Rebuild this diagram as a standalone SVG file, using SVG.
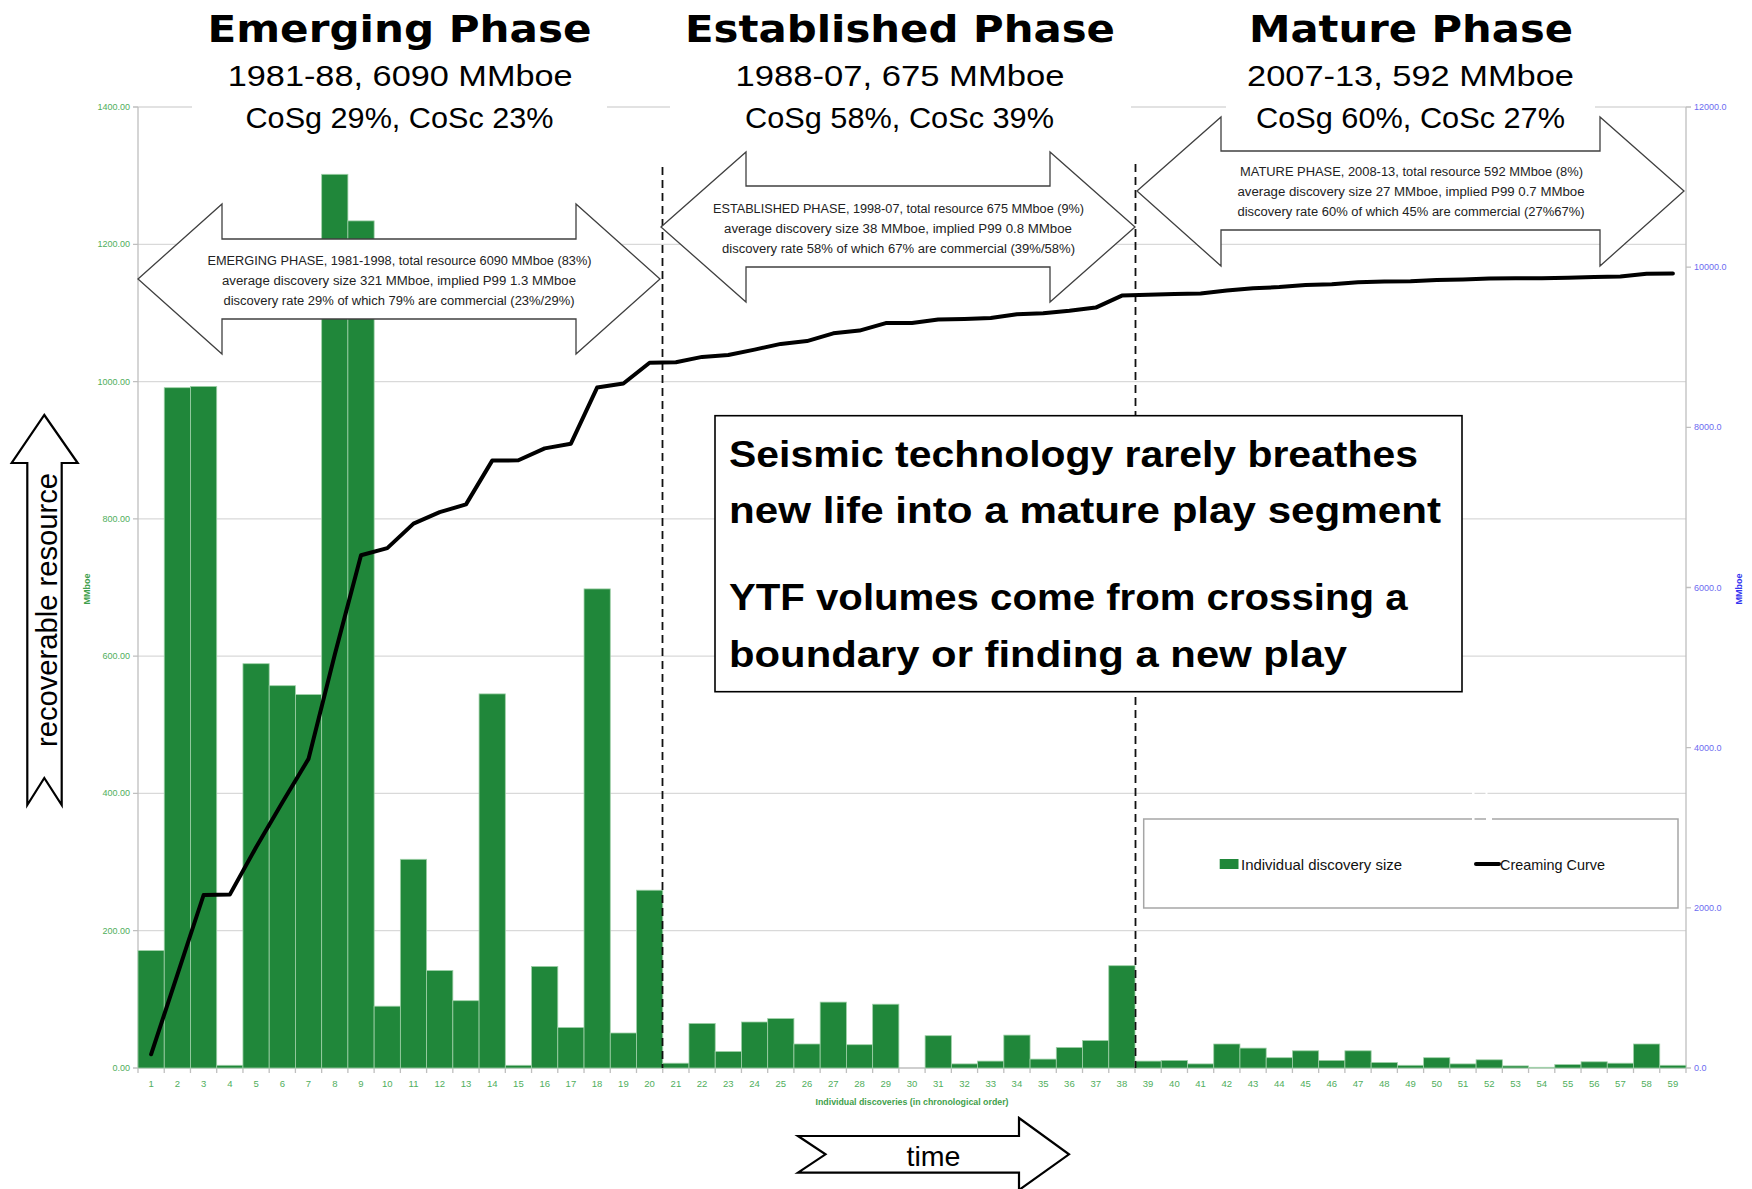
<svg xmlns="http://www.w3.org/2000/svg" width="1752" height="1189" viewBox="0 0 1752 1189">
<style>
.grid{stroke:#d9d9d9;stroke-width:1.3;fill:none}
.axis{stroke:#bfbfbf;stroke-width:1.3;fill:none}
.bar{fill:#20873a;stroke:#9fd0a8;stroke-width:0.8}
.ylab{font-family:"Liberation Sans",Arial,sans-serif;font-size:9px;fill:#4fae5c;text-anchor:end}
.y2lab{font-family:"Liberation Sans",Arial,sans-serif;font-size:9px;fill:#6c6cf0}
.xlab{font-family:"Liberation Sans",Arial,sans-serif;font-size:9.5px;fill:#4fae5c;text-anchor:middle}
.dash{stroke:#111;stroke-width:1.8;stroke-dasharray:8 5;fill:none}
.curve{stroke:#000;stroke-width:4;fill:none;stroke-linejoin:round;stroke-linecap:round}
.phase{fill:#fff;stroke:#404040;stroke-width:1.3}
.ptext{font-family:"Liberation Sans",Arial,sans-serif;font-size:12.5px;fill:#222;text-anchor:middle}
.title{font-family:"DejaVu Sans",Verdana,sans-serif;font-weight:bold;font-size:38px;fill:#000;text-anchor:middle}
.sub{font-family:"Liberation Sans",Arial,sans-serif;font-size:29px;fill:#000;text-anchor:middle}
.big{font-family:"Liberation Sans",Arial,sans-serif;font-weight:bold;font-size:37px;fill:#000}
.leg{font-family:"Liberation Sans",Arial,sans-serif;font-size:15px;fill:#111}
.shape{fill:#fff;stroke:#000;stroke-width:2.2;stroke-linejoin:miter}
</style>
<rect x="0" y="0" width="1752" height="1189" fill="#fff"/>

<g id="gridlines">
<line class="grid" x1="138" y1="107" x2="1686" y2="107"/>
<line class="grid" x1="138" y1="244.3" x2="1686" y2="244.3"/>
<line class="grid" x1="138" y1="381.6" x2="1686" y2="381.6"/>
<line class="grid" x1="138" y1="518.9" x2="1686" y2="518.9"/>
<line class="grid" x1="138" y1="656.1" x2="1686" y2="656.1"/>
<line class="grid" x1="138" y1="793.4" x2="1686" y2="793.4"/>
<line class="grid" x1="138" y1="930.7" x2="1686" y2="930.7"/>
</g>

<g id="axes">
<line class="axis" x1="138" y1="107" x2="138" y2="1068"/>
<line class="axis" x1="1686" y1="107" x2="1686" y2="1068"/>
<line class="axis" x1="133" y1="1068" x2="1691" y2="1068"/>
<path class="axis" d="M133,107H138M133,244.3H138M133,381.6H138M133,518.9H138M133,656.1H138M133,793.4H138M133,930.7H138"/>
<path class="axis" d="M1686,107H1691M1686,267.2H1691M1686,427.3H1691M1686,587.5H1691M1686,747.7H1691M1686,907.8H1691"/>
<path class="axis" d="M138,1068V1073M164.24,1068V1073M190.47,1068V1073M216.71,1068V1073M242.95,1068V1073M269.19,1068V1073M295.42,1068V1073M321.66,1068V1073M347.9,1068V1073M374.13,1068V1073M400.37,1068V1073M426.61,1068V1073M452.84,1068V1073M479.08,1068V1073M505.32,1068V1073M531.56,1068V1073M557.79,1068V1073M584.03,1068V1073M610.27,1068V1073M636.5,1068V1073M662.74,1068V1073M688.98,1068V1073M715.21,1068V1073M741.45,1068V1073M767.69,1068V1073M793.93,1068V1073M820.16,1068V1073M846.4,1068V1073M872.64,1068V1073M898.87,1068V1073M925.11,1068V1073M951.35,1068V1073M977.58,1068V1073M1003.82,1068V1073M1030.06,1068V1073M1056.3,1068V1073M1082.53,1068V1073M1108.77,1068V1073M1135.01,1068V1073M1161.24,1068V1073M1187.48,1068V1073M1213.72,1068V1073M1239.95,1068V1073M1266.19,1068V1073M1292.43,1068V1073M1318.67,1068V1073M1344.9,1068V1073M1371.14,1068V1073M1397.38,1068V1073M1423.61,1068V1073M1449.85,1068V1073M1476.09,1068V1073M1502.32,1068V1073M1528.56,1068V1073M1554.8,1068V1073M1581.04,1068V1073M1607.27,1068V1073M1633.51,1068V1073M1659.75,1068V1073M1685.98,1068V1073"/>
</g>

<g id="axis-labels">
<text class="ylab" x="130" y="110">1400.00</text>
<text class="ylab" x="130" y="247.3">1200.00</text>
<text class="ylab" x="130" y="384.6">1000.00</text>
<text class="ylab" x="130" y="521.9">800.00</text>
<text class="ylab" x="130" y="659.1">600.00</text>
<text class="ylab" x="130" y="796.4">400.00</text>
<text class="ylab" x="130" y="933.7">200.00</text>
<text class="ylab" x="130" y="1071">0.00</text>
<text class="y2lab" x="1694" y="110">12000.0</text>
<text class="y2lab" x="1694" y="270.2">10000.0</text>
<text class="y2lab" x="1694" y="430.3">8000.0</text>
<text class="y2lab" x="1694" y="590.5">6000.0</text>
<text class="y2lab" x="1694" y="750.7">4000.0</text>
<text class="y2lab" x="1694" y="910.8">2000.0</text>
<text class="y2lab" x="1694" y="1071">0.0</text>
<text transform="translate(90,589) rotate(-90)" font-family="Liberation Sans,Arial,sans-serif" font-size="9" font-weight="bold" fill="#3f9f4c" text-anchor="middle">MMboe</text>
<text transform="translate(1742,589) rotate(-90)" font-family="Liberation Sans,Arial,sans-serif" font-size="9" font-weight="bold" fill="#3434f0" text-anchor="middle">MMboe</text>
<text x="912" y="1105" font-family="Liberation Sans,Arial,sans-serif" font-size="9" font-weight="bold" fill="#3f9f4c" text-anchor="middle" textLength="193" lengthAdjust="spacingAndGlyphs">Individual discoveries (in chronological order)</text>
<text class="xlab" x="151.1" y="1086.5">1</text>
<text class="xlab" x="177.4" y="1086.5">2</text>
<text class="xlab" x="203.6" y="1086.5">3</text>
<text class="xlab" x="229.8" y="1086.5">4</text>
<text class="xlab" x="256.1" y="1086.5">5</text>
<text class="xlab" x="282.3" y="1086.5">6</text>
<text class="xlab" x="308.5" y="1086.5">7</text>
<text class="xlab" x="334.8" y="1086.5">8</text>
<text class="xlab" x="361" y="1086.5">9</text>
<text class="xlab" x="387.3" y="1086.5">10</text>
<text class="xlab" x="413.5" y="1086.5">11</text>
<text class="xlab" x="439.7" y="1086.5">12</text>
<text class="xlab" x="466" y="1086.5">13</text>
<text class="xlab" x="492.2" y="1086.5">14</text>
<text class="xlab" x="518.4" y="1086.5">15</text>
<text class="xlab" x="544.7" y="1086.5">16</text>
<text class="xlab" x="570.9" y="1086.5">17</text>
<text class="xlab" x="597.1" y="1086.5">18</text>
<text class="xlab" x="623.4" y="1086.5">19</text>
<text class="xlab" x="649.6" y="1086.5">20</text>
<text class="xlab" x="675.9" y="1086.5">21</text>
<text class="xlab" x="702.1" y="1086.5">22</text>
<text class="xlab" x="728.3" y="1086.5">23</text>
<text class="xlab" x="754.6" y="1086.5">24</text>
<text class="xlab" x="780.8" y="1086.5">25</text>
<text class="xlab" x="807" y="1086.5">26</text>
<text class="xlab" x="833.3" y="1086.5">27</text>
<text class="xlab" x="859.5" y="1086.5">28</text>
<text class="xlab" x="885.8" y="1086.5">29</text>
<text class="xlab" x="912" y="1086.5">30</text>
<text class="xlab" x="938.2" y="1086.5">31</text>
<text class="xlab" x="964.5" y="1086.5">32</text>
<text class="xlab" x="990.7" y="1086.5">33</text>
<text class="xlab" x="1016.9" y="1086.5">34</text>
<text class="xlab" x="1043.2" y="1086.5">35</text>
<text class="xlab" x="1069.4" y="1086.5">36</text>
<text class="xlab" x="1095.7" y="1086.5">37</text>
<text class="xlab" x="1121.9" y="1086.5">38</text>
<text class="xlab" x="1148.1" y="1086.5">39</text>
<text class="xlab" x="1174.4" y="1086.5">40</text>
<text class="xlab" x="1200.6" y="1086.5">41</text>
<text class="xlab" x="1226.8" y="1086.5">42</text>
<text class="xlab" x="1253.1" y="1086.5">43</text>
<text class="xlab" x="1279.3" y="1086.5">44</text>
<text class="xlab" x="1305.6" y="1086.5">45</text>
<text class="xlab" x="1331.8" y="1086.5">46</text>
<text class="xlab" x="1358" y="1086.5">47</text>
<text class="xlab" x="1384.3" y="1086.5">48</text>
<text class="xlab" x="1410.5" y="1086.5">49</text>
<text class="xlab" x="1436.7" y="1086.5">50</text>
<text class="xlab" x="1463" y="1086.5">51</text>
<text class="xlab" x="1489.2" y="1086.5">52</text>
<text class="xlab" x="1515.5" y="1086.5">53</text>
<text class="xlab" x="1541.7" y="1086.5">54</text>
<text class="xlab" x="1567.9" y="1086.5">55</text>
<text class="xlab" x="1594.2" y="1086.5">56</text>
<text class="xlab" x="1620.4" y="1086.5">57</text>
<text class="xlab" x="1646.6" y="1086.5">58</text>
<text class="xlab" x="1672.9" y="1086.5">59</text>
</g>

<g id="bars">
<rect class="bar" x="138" y="950.6" width="26.24" height="117.4"/>
<rect class="bar" x="164.24" y="387.7" width="26.24" height="680.3"/>
<rect class="bar" x="190.47" y="386.4" width="26.24" height="681.6"/>
<rect class="bar" x="216.71" y="1065.3" width="26.24" height="2.7"/>
<rect class="bar" x="242.95" y="663.7" width="26.24" height="404.3"/>
<rect class="bar" x="269.19" y="685.7" width="26.24" height="382.3"/>
<rect class="bar" x="295.42" y="694.6" width="26.24" height="373.4"/>
<rect class="bar" x="321.66" y="174.3" width="26.24" height="893.7"/>
<rect class="bar" x="347.9" y="220.9" width="26.24" height="847.1"/>
<rect class="bar" x="374.13" y="1006.2" width="26.24" height="61.8"/>
<rect class="bar" x="400.37" y="859.3" width="26.24" height="208.7"/>
<rect class="bar" x="426.61" y="970.5" width="26.24" height="97.5"/>
<rect class="bar" x="452.84" y="1000.7" width="26.24" height="67.3"/>
<rect class="bar" x="479.08" y="693.9" width="26.24" height="374.1"/>
<rect class="bar" x="505.32" y="1065.3" width="26.24" height="2.7"/>
<rect class="bar" x="531.56" y="966.4" width="26.24" height="101.6"/>
<rect class="bar" x="557.79" y="1027.5" width="26.24" height="40.5"/>
<rect class="bar" x="584.03" y="588.9" width="26.24" height="479.1"/>
<rect class="bar" x="610.27" y="1033" width="26.24" height="35"/>
<rect class="bar" x="636.5" y="890.2" width="26.24" height="177.8"/>
<rect class="bar" x="662.74" y="1063.2" width="26.24" height="4.8"/>
<rect class="bar" x="688.98" y="1023.4" width="26.24" height="44.6"/>
<rect class="bar" x="715.21" y="1051.5" width="26.24" height="16.5"/>
<rect class="bar" x="741.45" y="1022" width="26.24" height="46"/>
<rect class="bar" x="767.69" y="1018.6" width="26.24" height="49.4"/>
<rect class="bar" x="793.93" y="1044" width="26.24" height="24"/>
<rect class="bar" x="820.16" y="1002.1" width="26.24" height="65.9"/>
<rect class="bar" x="846.4" y="1044.7" width="26.24" height="23.3"/>
<rect class="bar" x="872.64" y="1004.2" width="26.24" height="63.8"/>
<rect class="bar" x="925.11" y="1035.7" width="26.24" height="32.3"/>
<rect class="bar" x="951.35" y="1063.9" width="26.24" height="4.1"/>
<rect class="bar" x="977.58" y="1061.1" width="26.24" height="6.9"/>
<rect class="bar" x="1003.82" y="1035.1" width="26.24" height="32.9"/>
<rect class="bar" x="1030.06" y="1059.1" width="26.24" height="8.9"/>
<rect class="bar" x="1056.3" y="1047.4" width="26.24" height="20.6"/>
<rect class="bar" x="1082.53" y="1040.5" width="26.24" height="27.5"/>
<rect class="bar" x="1108.77" y="965.7" width="26.24" height="102.3"/>
<rect class="bar" x="1135.01" y="1061.1" width="26.24" height="6.9"/>
<rect class="bar" x="1161.24" y="1060.4" width="26.24" height="7.6"/>
<rect class="bar" x="1187.48" y="1063.9" width="26.24" height="4.1"/>
<rect class="bar" x="1213.72" y="1044" width="26.24" height="24"/>
<rect class="bar" x="1239.95" y="1048.1" width="26.24" height="19.9"/>
<rect class="bar" x="1266.19" y="1057.7" width="26.24" height="10.3"/>
<rect class="bar" x="1292.43" y="1050.8" width="26.24" height="17.2"/>
<rect class="bar" x="1318.67" y="1060.4" width="26.24" height="7.6"/>
<rect class="bar" x="1344.9" y="1050.8" width="26.24" height="17.2"/>
<rect class="bar" x="1371.14" y="1062.5" width="26.24" height="5.5"/>
<rect class="bar" x="1397.38" y="1065.3" width="26.24" height="2.7"/>
<rect class="bar" x="1423.61" y="1057.7" width="26.24" height="10.3"/>
<rect class="bar" x="1449.85" y="1063.9" width="26.24" height="4.1"/>
<rect class="bar" x="1476.09" y="1059.8" width="26.24" height="8.2"/>
<rect class="bar" x="1502.32" y="1065.9" width="26.24" height="2.1"/>
<rect class="bar" x="1528.56" y="1067.3" width="26.24" height="0.7"/>
<rect class="bar" x="1554.8" y="1064.6" width="26.24" height="3.4"/>
<rect class="bar" x="1581.04" y="1061.8" width="26.24" height="6.2"/>
<rect class="bar" x="1607.27" y="1063.2" width="26.24" height="4.8"/>
<rect class="bar" x="1633.51" y="1044" width="26.24" height="24"/>
<rect class="bar" x="1659.75" y="1065.3" width="26.24" height="2.7"/>
</g>

<g id="connectors">
<line class="dash" x1="662.5" y1="167" x2="662.5" y2="1068"/>
<line class="dash" x1="1135.5" y1="164" x2="1135.5" y2="1068"/>
<polyline id="creaming-curve" class="curve" points="151.1,1054.3 177.4,974.7 203.6,895 229.8,894.6 256.1,847.3 282.3,802.6 308.5,758.9 334.8,654.4 361,555.3 387.3,548.1 413.5,523.6 439.7,512.2 466,504.4 492.2,460.6 518.4,460.3 544.7,448.4 570.9,443.7 597.1,387.6 623.4,383.5 649.6,362.7 675.9,362.2 702.1,356.9 728.3,355 754.6,349.6 780.8,343.9 807,341.1 833.3,333.3 859.5,330.6 885.8,323.1 912,323.1 938.2,319.4 964.5,318.9 990.7,318.1 1016.9,314.2 1043.2,313.2 1069.4,310.8 1095.7,307.6 1121.9,295.6 1148.1,294.8 1174.4,293.9 1200.6,293.4 1226.8,290.6 1253.1,288.3 1279.3,287.1 1305.6,285.1 1331.8,284.2 1358,282.2 1384.3,281.5 1410.5,281.2 1436.7,280 1463,279.5 1489.2,278.6 1515.5,278.3 1541.7,278.2 1567.9,277.8 1594.2,277.1 1620.4,276.6 1646.6,273.7 1672.9,273.4"/>
</g>

<g id="title-backgrounds" fill="#fff">
<rect x="192" y="60" width="415" height="75"/>
<rect x="670" y="60" width="461" height="75"/>
<rect x="1226" y="60" width="369" height="50"/>
</g>

<g id="emerging-arrow">
<path class="phase" d="M138,279 L222,204 L222,239 L576,239 L576,204 L660,279 L576,354 L576,319 L222,319 L222,354 Z"/>
<text class="ptext" x="399.5" y="265" textLength="384" lengthAdjust="spacingAndGlyphs">EMERGING PHASE, 1981-1998, total resource 6090 MMboe (83%)</text>
<text class="ptext" x="399" y="285" textLength="354" lengthAdjust="spacingAndGlyphs">average discovery size 321 MMboe,  implied P99 1.3 MMboe</text>
<text class="ptext" x="399" y="305" textLength="351" lengthAdjust="spacingAndGlyphs">discovery rate 29% of which 79% are commercial (23%/29%)</text>
</g>

<g id="established-arrow">
<path class="phase" d="M661,227 L746,152 L746,186 L1050,186 L1050,152 L1135,227 L1050,302 L1050,267 L746,267 L746,302 Z"/>
<text class="ptext" x="898.5" y="212.5" textLength="371" lengthAdjust="spacingAndGlyphs">ESTABLISHED PHASE, 1998-07, total resource 675 MMboe  (9%)</text>
<text class="ptext" x="898" y="232.5" textLength="348" lengthAdjust="spacingAndGlyphs">average discovery size 38 MMboe,  implied P99 0.8 MMboe</text>
<text class="ptext" x="898.5" y="252.5" textLength="353" lengthAdjust="spacingAndGlyphs">discovery rate 58% of which 67% are commercial (39%/58%)</text>
</g>

<g id="mature-arrow">
<path class="phase" d="M1137,191 L1221,117 L1221,151 L1600,151 L1600,117 L1684,191 L1600,266 L1600,230 L1221,230 L1221,266 Z"/>
<text class="ptext" x="1411.5" y="176" textLength="343" lengthAdjust="spacingAndGlyphs">MATURE PHASE, 2008-13, total resource 592 MMboe (8%)</text>
<text class="ptext" x="1411" y="196" textLength="347" lengthAdjust="spacingAndGlyphs">average discovery size 27 MMboe,  implied P99 0.7 MMboe</text>
<text class="ptext" x="1411" y="216" textLength="347" lengthAdjust="spacingAndGlyphs">discovery rate 60% of which 45% are commercial (27%67%)</text>
</g>

<g id="emerging-title">
<text class="title" x="399.5" y="41.7" textLength="384" lengthAdjust="spacingAndGlyphs">Emerging Phase</text>
<text class="sub" x="400.2" y="86" textLength="345" lengthAdjust="spacingAndGlyphs">1981-88, 6090 MMboe</text>
<text class="sub" x="399.5" y="128" textLength="308" lengthAdjust="spacingAndGlyphs">CoSg 29%, CoSc 23%</text>
</g>

<g id="established-title">
<text class="title" x="900" y="41.7" textLength="430" lengthAdjust="spacingAndGlyphs">Established Phase</text>
<text class="sub" x="900" y="86" textLength="329" lengthAdjust="spacingAndGlyphs">1988-07, 675 MMboe</text>
<text class="sub" x="899.5" y="128" textLength="309" lengthAdjust="spacingAndGlyphs">CoSg 58%, CoSc 39%</text>
</g>

<g id="mature-title">
<text class="title" x="1411" y="41.7" textLength="324" lengthAdjust="spacingAndGlyphs">Mature Phase</text>
<text class="sub" x="1410.5" y="86" textLength="327" lengthAdjust="spacingAndGlyphs">2007-13, 592 MMboe</text>
<text class="sub" x="1410.5" y="128" textLength="309" lengthAdjust="spacingAndGlyphs">CoSg 60%, CoSc 27%</text>
</g>

<g id="message-box">
<rect x="715" y="415.7" width="747" height="276" fill="#fff" stroke="#000" stroke-width="1.6"/>
<text class="big" x="729" y="466.7" textLength="689" lengthAdjust="spacingAndGlyphs">Seismic technology rarely breathes</text>
<text class="big" x="729" y="523.3" textLength="712" lengthAdjust="spacingAndGlyphs">new life into a mature play segment</text>
<text class="big" x="729" y="610" textLength="678.5" lengthAdjust="spacingAndGlyphs">YTF volumes come from crossing a</text>
<text class="big" x="729" y="666.7" textLength="618" lengthAdjust="spacingAndGlyphs">boundary or finding a new play</text>
</g>

<g id="legend">
<rect x="1143.7" y="819" width="534.3" height="89" fill="#fff" stroke="#a6a6a6" stroke-width="1.5"/>
<rect x="1219.7" y="859" width="18.8" height="10" fill="#20873a"/>
<text class="leg" x="1241" y="869.5" textLength="161" lengthAdjust="spacingAndGlyphs">Individual discovery size</text>
<line x1="1476" y1="864" x2="1499" y2="864" stroke="#000" stroke-width="4" stroke-linecap="round"/>
<text class="leg" x="1500" y="869.5" textLength="105" lengthAdjust="spacingAndGlyphs">Creaming Curve</text>
<rect x="1472" y="789" width="2.5" height="34" fill="#fff"/>
<rect x="1485.5" y="789" width="2" height="8" fill="#fff"/>
<rect x="1486" y="815" width="6" height="8" fill="#fff"/>
</g>

<g id="resource-arrow">
<path class="shape" d="M44.3,415 L77.7,463 L61.7,463 L61.7,805 L44.3,778 L27.3,805 L27.3,463 L11.7,463 Z"/>
<text transform="translate(56.5,610) rotate(-90)" font-family="Liberation Sans,Arial,sans-serif" font-size="29" fill="#000" text-anchor="middle" textLength="274" lengthAdjust="spacingAndGlyphs">recoverable resource</text>
</g>

<g id="time-arrow">
<path class="shape" d="M798,1136 L1019,1136 L1019,1118 L1069,1154.3 L1019,1190 L1019,1172.7 L798,1172.7 L825.5,1154.3 Z"/>
<text x="933.5" y="1166" font-family="Liberation Sans,Arial,sans-serif" font-size="28" fill="#000" text-anchor="middle" textLength="54" lengthAdjust="spacingAndGlyphs">time</text>
</g>
</svg>
